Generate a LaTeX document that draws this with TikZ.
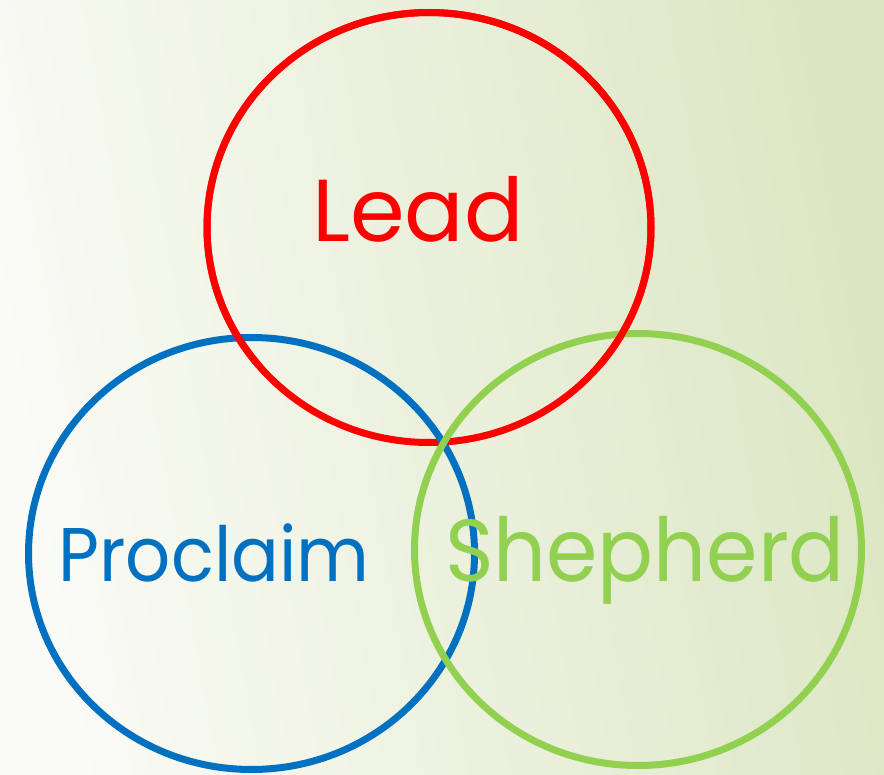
\documentclass[tikz,border=0pt]{standalone}
\usepackage{fontspec}
\setmainfont{Poppins}
\definecolor{cred}{HTML}{FF0000}
\definecolor{cblue}{HTML}{0070C0}
\definecolor{cgreen}{HTML}{92D050}
\definecolor{bgl}{HTML}{FAFBF6}
\definecolor{bgr}{HTML}{DCE6C3}
\begin{document}
\begin{tikzpicture}[x=1pt,y=-1pt,
  ring/.style={line width=7pt},
  lbl/.style={anchor=base, inner sep=0pt}]
\useasboundingbox (0,0) rectangle (884,775);
\shade[left color=bgl, right color=bgr, shading angle=100] (0,0) rectangle (884,775);
\draw[ring, cred] (429,227.5) ellipse [x radius=222, y radius=215];
\draw[ring, cblue] (251.5,553.5) ellipse [x radius=223, y radius=216];
\draw[ring, cgreen] (638,549.5) ellipse [x radius=223.5, y radius=216];
\draw[ring, cred] (429,227.5) ++(-40:222 and -215) arc [start angle=-40, end angle=220, x radius=222, y radius=-215];
\node[lbl, text=cred, font=\fontsize{88}{90}\selectfont] (lead) at (418,242) {Lead};
\node[lbl, text=cblue, font=\fontsize{76}{80}\selectfont, xscale=0.93] (proclaim) at (214,581) {Proclaim};
\node[lbl, text=cgreen, font=\fontsize{88}{90}\selectfont, xscale=0.94] (shepherd) at (645,581) {Shepherd};
\end{tikzpicture}
\end{document}
